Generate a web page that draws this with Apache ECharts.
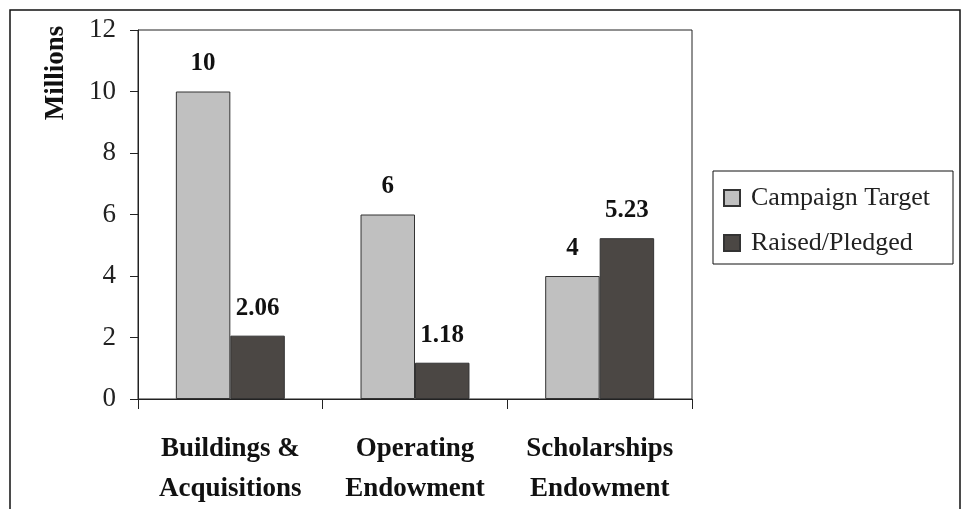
<!DOCTYPE html>
<html>
<head>
<meta charset="utf-8">
<script src="https://cdn.jsdelivr.net/npm/echarts@6/dist/echarts.min.js"></script>
<style>
  html, body { margin: 0; padding: 0; background: #fff; }
  #container { width: 968px; height: 509px; }
</style>
</head>
<body>
<div id="container"></div>
<script>
var categories = ['Buildings &\nAcquisitions', 'Operating\nEndowment', 'Scholarships\nEndowment'];
var targetValues = [10, 6, 4];
var raisedValues = [2.06, 1.18, 5.23];
var seriesNames = ['Campaign Target', 'Raised/Pledged'];

var serif = '"Liberation Serif", "DejaVu Serif", serif';
var dom = document.getElementById('container');
var myChart = echarts.init(dom);

var valueLabel = {
  show: true,
  position: 'top',
  distance: 15,
  fontFamily: serif,
  fontSize: 25,
  fontWeight: 'bold',
  color: '#111'
};

var option = {
  backgroundColor: '#fff',
  animation: false,
  textStyle: { fontFamily: serif },
  graphic: [
    {
      // outer frame of the chart
      type: 'rect',
      shape: { x: 10, y: 10, width: 950, height: 520 },
      style: { fill: 'none', stroke: '#111', lineWidth: 1.5 }
    },
    {
      type: 'text',
      x: 56, y: 73,
      rotation: Math.PI / 2,
      style: {
        text: 'Millions',
        font: 'bold 27px ' + serif,
        fill: '#111',
        align: 'center',
        verticalAlign: 'middle'
      }
    }
  ],
  legend: {
    orient: 'vertical',
    left: 713,
    top: 171,
    padding: [14, 10, 8, 10],
    itemGap: 19,
    itemWidth: 16,
    itemHeight: 16,
    borderColor: '#111',
    borderWidth: 1,
    icon: 'rect',
    data: seriesNames,
    textStyle: {
      fontFamily: serif, fontSize: 26, lineHeight: 26, color: '#222',
      width: 192, padding: [0, 0, 0, 6]
    }
  },
  grid: {
    left: 138,
    top: 30,
    width: 554,
    height: 372,
    show: true,
    borderColor: '#222',
    borderWidth: 1
  },
  xAxis: {
    type: 'category',
    data: categories,
    axisLine: { lineStyle: { color: '#222', width: 1 } },
    axisTick: { show: true, alignWithLabel: false, length: 10, lineStyle: { color: '#222' } },
    axisLabel: {
      margin: 30,
      fontFamily: serif,
      fontSize: 27,
      fontWeight: 'bold',
      lineHeight: 40,
      color: '#111',
      interval: 0
    }
  },
  yAxis: {
    type: 'value',
    min: 0,
    max: 12,
    interval: 2,
    splitLine: { show: false },
    axisLine: { show: true, lineStyle: { color: '#222', width: 1 } },
    axisTick: { show: true, length: 8, lineStyle: { color: '#222' } },
    axisLabel: { fontFamily: serif, fontSize: 27, color: '#222', margin: 22 }
  },
  series: [
    {
      name: seriesNames[0],
      type: 'bar',
      data: targetValues,
      barGap: '0%',
      barCategoryGap: '41%',
      itemStyle: { color: '#c0c0c0', borderColor: '#333', borderWidth: 1 },
      label: valueLabel
    },
    {
      name: seriesNames[1],
      type: 'bar',
      data: raisedValues,
      itemStyle: { color: '#4b4744', borderColor: '#333', borderWidth: 1 },
      label: valueLabel
    }
  ]
};

myChart.setOption(option);
</script>
</body>
</html>
